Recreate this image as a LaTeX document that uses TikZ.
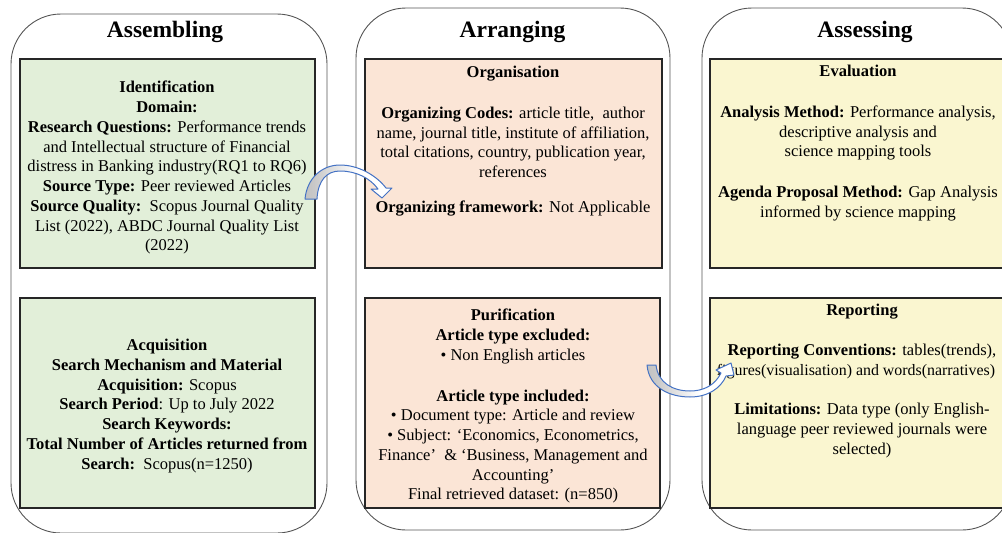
\documentclass[tikz,border=0pt]{standalone}
\usepackage{fontspec}
\setmainfont{Liberation Serif}
\definecolor{greenbox}{RGB}{226,239,217}
\definecolor{salmonbox}{RGB}{251,229,214}
\definecolor{yellowbox}{RGB}{250,246,208}
\definecolor{arrowblue}{RGB}{68,114,196}
\definecolor{colline}{RGB}{85,85,85}
\definecolor{arrgray}{RGB}{165,165,165}
\definecolor{arrgraylight}{RGB}{200,200,200}
\pgfdeclarehorizontalshading{arrowshade}{100bp}{color(0bp)=(arrgray); color(30bp)=(arrgraylight); color(55bp)=(white); color(100bp)=(white)}
\begin{document}
\begin{tikzpicture}[x=1pt,y=-1pt,
  column/.style={draw=colline, line width=0.9pt, rounded corners=50pt, inner sep=0, outer sep=0},
  box/.style={draw=black!85, line width=1.4pt, inner sep=0, outer sep=0},
  title/.style={font=\fontsize{23.5}{28}\selectfont\bfseries, inner sep=0},
  body/.style={font=\fontsize{16.5}{19.75}\selectfont, align=center, inner sep=0, anchor=north},
  curvearrow/.style={draw=arrowblue, line width=1pt, shading=arrowshade, line join=round}]
\useasboundingbox (0,0) rectangle (1002,533);
\clip (0,0) rectangle (1002,533);

% columns
\node[column, minimum width=316pt, minimum height=519pt] (colA) at (169,273.5) {};
\node[column, minimum width=314pt, minimum height=522pt] (colB) at (513,269) {};
\node[column, minimum width=310pt, minimum height=522pt] (colC) at (857,269) {};

% titles
\node[title] (tA) at (165,32) {Assembling};
\node[title] (tB) at (512.5,32) {Arranging};
\node[title] (tC) at (865,32) {Assessing};

% boxes
\node[box, fill=greenbox, minimum width=295pt, minimum height=209pt] (g1) at (167.5,163.5) {};
\node[box, fill=greenbox, minimum width=295pt, minimum height=210pt] (g2) at (167.5,403) {};
\node[box, fill=salmonbox, minimum width=297pt, minimum height=209pt] (s1) at (513.5,163.5) {};
\node[box, fill=salmonbox, minimum width=295pt, minimum height=210pt] (s2) at (512.5,403) {};
\node[box, fill=yellowbox, minimum width=296pt, minimum height=209pt] (y1) at (858,163.5) {};
\node[box, fill=yellowbox, minimum width=296pt, minimum height=210pt] (y2) at (858,403) {};

% texts
\node[body] (g1t) at (167,81) {\textbf{Identification}\\
\textbf{Domain:}\\
\textbf{Research Questions:} Performance trends\\
and Intellectual structure of Financial\\
distress in Banking industry(RQ1 to RQ6)\\
\textbf{Source Type:} Peer reviewed Articles\\
\textbf{Source Quality:}\ \ Scopus Journal Quality\\
List (2022), ABDC Journal Quality List\\
(2022)};

\node[body] (g2t) at (167,339) {\textbf{Acquisition}\\
\textbf{Search Mechanism and Material}\\
\textbf{Acquisition:} Scopus\\
\textbf{Search Period}: Up to July 2022\\
\textbf{Search Keywords:}\\
\textbf{Total Number of Articles returned from}\\
\textbf{Search:}\ \ Scopus(n=1250)};

\node[body] (s1t) at (513,66) {\textbf{Organisation}\\[21pt]
\textbf{Organizing Codes:} article title,\ \ author\\
name, journal title, institute of affiliation,\\
total citations, country, publication year,\\
references\\[15pt]
\textbf{Organizing framework:} Not Applicable};

\node[body] (s2t) at (513,309) {\textbf{Purification}\\
\textbf{Article type excluded:}\\
• Non English articles\\[21pt]
\textbf{Article type included:}\\
• Document type: Article and review\\
• Subject: ‘Economics, Econometrics,\\
Finance’\ \ \& ‘Business, Management and\\
Accounting’\\
Final retrieved dataset: (n=850)};

\node[body] (y1t) at (858,65) {\textbf{Evaluation}\\[21pt]
\textbf{Analysis Method:} Performance analysis,\\
descriptive analysis and\\
science mapping tools\\[21pt]
\textbf{Agenda Proposal Method:} Gap Analysis\\
informed by science mapping};

\node[body] (y2t) at (862,304) {\textbf{Reporting}\\[20pt]
\textbf{Reporting Conventions:} tables(trends),\\
{\fontsize{15.9}{19.75}\selectfont\hspace*{-12pt}figures(visualisation) and words(narratives)}\\[20pt]
\textbf{Limitations:} Data type (only English-\\
language peer reviewed journals were\\
selected)};

% curved block arrows
\shadedraw[curvearrow] (305,199) .. controls (307,178) and (322,165) .. (340,165)
  .. controls (358,165) and (376,175) .. (386,188)
  -- (392,188) -- (382,198) -- (371,189) -- (378,189)
  .. controls (370,178) and (356,171) .. (340,171)
  .. controls (327,171) and (318,180) .. (317,199) -- cycle;

\shadedraw[curvearrow] (647,365) .. controls (649,388) and (670,397) .. (690,397)
  .. controls (708,397) and (721,388) .. (726,376)
  -- (734,375) -- (731,363) -- (716,370) -- (721,373)
  .. controls (715,385) and (704,391) .. (690,391)
  .. controls (673,391) and (658,383) .. (656,365) -- cycle;
\end{tikzpicture}
\end{document}
